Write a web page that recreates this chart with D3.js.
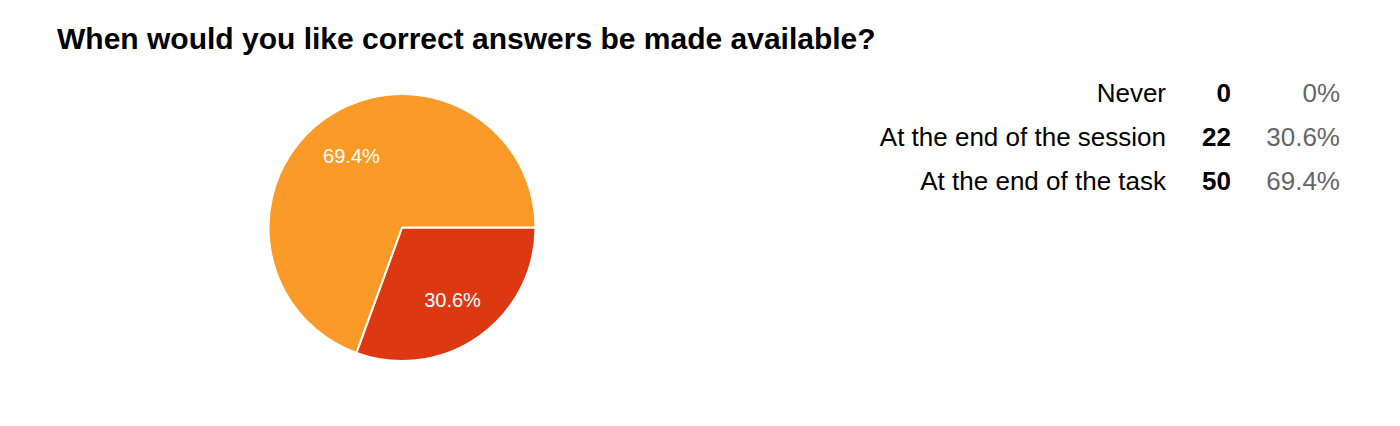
<!DOCTYPE html>
<html><head><meta charset="utf-8">
<script src="https://cdn.jsdelivr.net/npm/d3@7"></script>
<style>body{margin:0;background:#fff;} svg{display:block;font-family:Arial,"Liberation Sans",Helvetica,sans-serif;}</style>
</head><body>
<script>
const title = "When would you like correct answers be made available?";
const categories = ["Never", "At the end of the session", "At the end of the task"];
const counts = [0, 22, 50];
const percentLabels = ["0%", "30.6%", "69.4%"];
const colors = ["#3366cc", "#dc3912", "#fa9a28"];

const W = 1400, H = 426;
const svg = d3.select("body").append("svg").attr("width", W).attr("height", H);

svg.append("text").attr("x", 57).attr("y", 49)
  .attr("font-size", 30).attr("font-weight", "bold").attr("fill", "#000").text(title);

const cx = 402, cy = 227.5, r = 133.5;
const total = d3.sum(counts);
const pie = d3.pie().sort(null).value(d => d.v).startAngle(Math.PI/2).endAngle(Math.PI/2 + 2*Math.PI);
const data = categories.map((c,i) => ({c, v: counts[i], i})).filter(d => d.v > 0);
const arcs = pie(data);
const arc = d3.arc().innerRadius(0).outerRadius(r);
const g = svg.append("g").attr("transform", `translate(${cx},${cy})`);
g.selectAll("path").data(arcs).join("path")
  .attr("d", arc).attr("fill", d => colors[d.data.i])
  .attr("stroke", "#fff").attr("stroke-width", 2).attr("stroke-linejoin", "round");
const labelArc = d3.arc().innerRadius(r*0.66).outerRadius(r*0.66);
g.selectAll("text").data(arcs).join("text")
  .attr("transform", d => `translate(${labelArc.centroid(d)})`)
  .attr("text-anchor", "middle").attr("dy", "0.36em")
  .attr("font-size", 20).attr("fill", "#fff")
  .text(d => d3.format(".1f")(d.data.v / total * 100) + "%");

const rowY = d3.scalePoint().domain(categories).range([102, 190]);
const t = svg.append("g").attr("font-size", 26);
categories.forEach((c, i) => {
  const y = rowY(c);
  t.append("text").attr("x", 1166).attr("y", y).attr("text-anchor", "end").attr("fill", "#000").text(c);
  t.append("text").attr("x", 1231).attr("y", y).attr("text-anchor", "end").attr("font-weight", "bold").attr("fill", "#000").text(counts[i]);
  t.append("text").attr("x", 1340).attr("y", y).attr("text-anchor", "end").attr("fill", "#666").text(percentLabels[i]);
});
</script>
</body></html>
